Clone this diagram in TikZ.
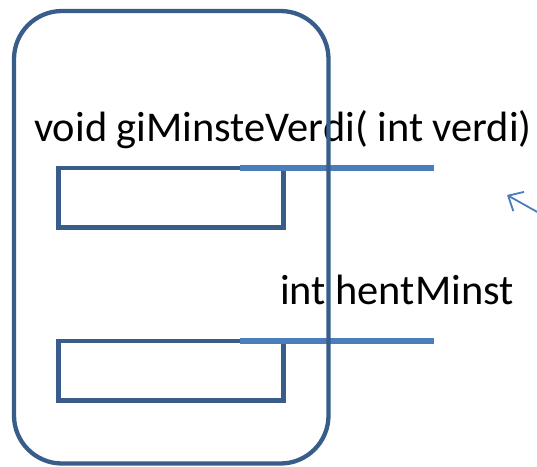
\documentclass[tikz,border=0pt]{standalone}
\usepackage{fontspec}
\setmainfont{Carlito}
\usetikzlibrary{arrows.meta}
\definecolor{darkblue}{HTML}{385D8A}
\definecolor{lightblue}{HTML}{4A7EBB}

\begin{document}
\begin{tikzpicture}[x=1pt, y=-1pt,
  label/.style={anchor=base west, inner sep=0pt, font=\fontsize{42.4}{50}\selectfont},
  slot/.style={rectangle, draw=darkblue, line width=4.5pt, minimum width=225pt, minimum height=59.5pt, inner sep=0pt},
  wire/.style={draw=lightblue, line width=5.5pt}]
  \useasboundingbox (0,0) rectangle (537,466);
  % Nodes
  \node (verdi-text) [label] at (34, 141) {void giMinsteVerdi( int verdi)};
  \node (minst-text) [label] at (280, 304) {int hentMinst};
  \node (verdi-box) [slot] at (171, 197.75) {};
  \node (minst-box) [slot] at (171, 370.75) {};
  \coordinate (verdi-start) at (240, 168);
  \coordinate (verdi-end) at (433.5, 168);
  \coordinate (minst-start) at (240, 341);
  \coordinate (minst-end) at (433.5, 341);
  \coordinate (arrow-from) at (540, 213.5);
  \coordinate (arrow-to) at (507, 195);
  % Lines
  \draw[wire] (verdi-start) -- (verdi-end);
  \draw[wire] (minst-start) -- (minst-end);
  \draw[darkblue, line width=4.3pt, rounded corners=48pt] (14, 11) rectangle (328.5, 463.5);
  % Arrow
  \draw[lightblue, line width=1.8pt, -{Straight Barb[length=12pt, width=22pt]}] (arrow-from) -- (arrow-to);
\end{tikzpicture}
\end{document}
